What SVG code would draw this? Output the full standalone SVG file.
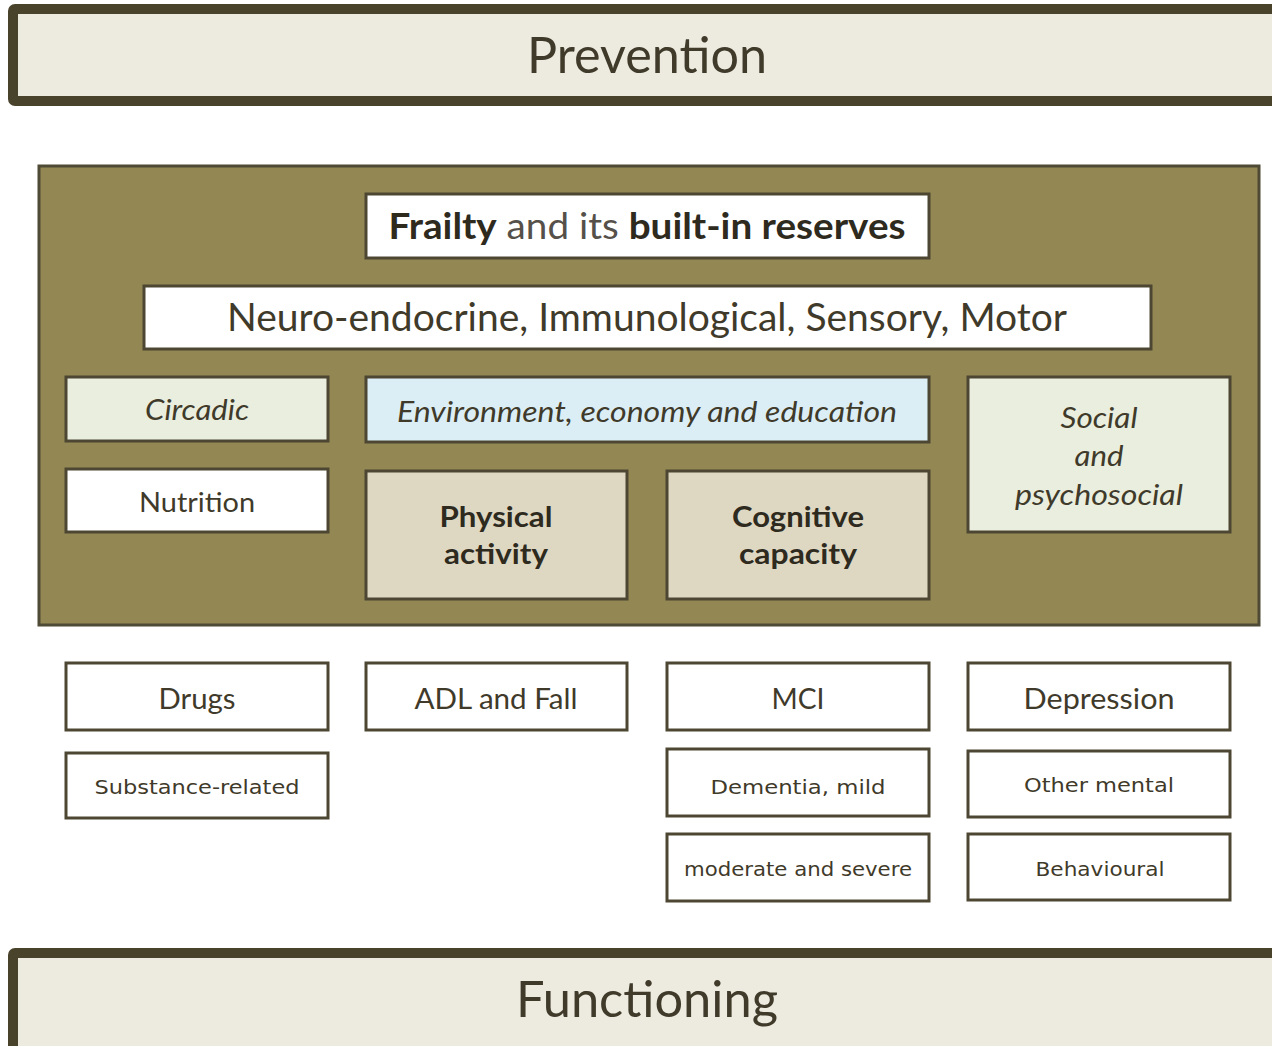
<svg xmlns="http://www.w3.org/2000/svg" width="1272" height="1046" viewBox="0 0 1272 1046">
<style>
.bar{fill:#EDEADF;stroke:#4A432B;stroke-width:10}
.box{stroke:#4D4632;stroke-width:3}
.w{fill:#FFFFFF}
.g{fill:#EAEEDF}
.b{fill:#DCEEF5}
.t{fill:#DED8C3}
.f{font-family:Lato,"Open Sans","Liberation Sans",sans-serif;fill:#3F3A2A;text-anchor:middle}
.s{font-family:"DejaVu Sans","Liberation Sans",sans-serif;fill:#3F3A2A;text-anchor:middle;font-size:20px}
.i{font-style:italic}
.bd{font-weight:bold;fill:#2E2A1E}
</style>
<g id="prevention">
<rect class="bar" x="13" y="9" width="1290" height="92" rx="2"/>
<text class="f" x="647" y="73" font-size="50" textLength="240" lengthAdjust="spacingAndGlyphs">Prevention</text>
</g>
<g id="main">
<rect x="39" y="166" width="1220" height="459" fill="#938853" stroke="#4F4A35" stroke-width="3"/>
</g>
<g id="frailty">
<rect class="box w" x="366" y="194" width="563" height="64"/>
<text class="f" x="647" y="239" font-size="36" textLength="517" lengthAdjust="spacingAndGlyphs"><tspan class="bd">Frailty</tspan><tspan fill="#555049"> and its </tspan><tspan class="bd">built-in reserves</tspan></text>
</g>
<g id="neuro">
<rect class="box w" x="144" y="286" width="1007" height="63"/>
<text class="f" x="647" y="331" font-size="38" textLength="840" lengthAdjust="spacingAndGlyphs">Neuro-endocrine, Immunological, Sensory, Motor</text>
</g>
<g id="circadic">
<rect class="box g" x="66" y="377" width="262" height="64"/>
<text class="f i" x="197" y="420" font-size="29" textLength="104" lengthAdjust="spacingAndGlyphs">Circadic</text>
</g>
<g id="environment">
<rect class="box b" x="366" y="377" width="563" height="65"/>
<text class="f i" x="647" y="422" font-size="28" textLength="500" lengthAdjust="spacingAndGlyphs">Environment, economy and education</text>
</g>
<g id="social">
<rect class="box g" x="968" y="377" width="262" height="155"/>
<text class="f i" x="1099" y="428" font-size="28" textLength="77" lengthAdjust="spacingAndGlyphs">Social</text>
<text class="f i" x="1099" y="466" font-size="28" textLength="49" lengthAdjust="spacingAndGlyphs">and</text>
<text class="f i" x="1099" y="505" font-size="28" textLength="168" lengthAdjust="spacingAndGlyphs">psychosocial</text>
</g>
<g id="nutrition">
<rect class="box w" x="66" y="469" width="262" height="63"/>
<text class="f" x="197" y="512" font-size="27" textLength="116" lengthAdjust="spacingAndGlyphs">Nutrition</text>
</g>
<g id="physical">
<rect class="box t" x="366" y="471" width="261" height="128"/>
<text class="f bd" x="496" y="527" font-size="28" textLength="113" lengthAdjust="spacingAndGlyphs">Physical</text>
<text class="f bd" x="496" y="564" font-size="28" textLength="104" lengthAdjust="spacingAndGlyphs">activity</text>
</g>
<g id="cognitive">
<rect class="box t" x="667" y="471" width="262" height="128"/>
<text class="f bd" x="798" y="527" font-size="28" textLength="132" lengthAdjust="spacingAndGlyphs">Cognitive</text>
<text class="f bd" x="798" y="564" font-size="28" textLength="118" lengthAdjust="spacingAndGlyphs">capacity</text>
</g>
<g id="drugs">
<rect class="box w" x="66" y="663" width="262" height="67"/>
<text class="f" x="197" y="709" font-size="28" textLength="77" lengthAdjust="spacingAndGlyphs">Drugs</text>
</g>
<g id="adl">
<rect class="box w" x="366" y="663" width="261" height="67"/>
<text class="f" x="496" y="709" font-size="28" textLength="163" lengthAdjust="spacingAndGlyphs">ADL and Fall</text>
</g>
<g id="mci">
<rect class="box w" x="667" y="663" width="262" height="67"/>
<text class="f" x="798" y="709" font-size="28" textLength="53" lengthAdjust="spacingAndGlyphs">MCI</text>
</g>
<g id="depression">
<rect class="box w" x="968" y="663" width="262" height="67"/>
<text class="f" x="1099" y="709" font-size="28" textLength="151" lengthAdjust="spacingAndGlyphs">Depression</text>
</g>
<g id="substance">
<rect class="box w" x="66" y="753" width="262" height="65"/>
<text class="s" x="197" y="794" textLength="205" lengthAdjust="spacingAndGlyphs">Substance-related</text>
</g>
<g id="dementia">
<rect class="box w" x="667" y="749" width="262" height="67"/>
<text class="s" x="798" y="794" textLength="175" lengthAdjust="spacingAndGlyphs">Dementia, mild</text>
</g>
<g id="othermental">
<rect class="box w" x="968" y="751" width="262" height="66"/>
<text class="s" x="1099" y="792" textLength="150" lengthAdjust="spacingAndGlyphs">Other mental</text>
</g>
<g id="moderate">
<rect class="box w" x="667" y="834" width="262" height="67"/>
<text class="s" x="798" y="876" textLength="228" lengthAdjust="spacingAndGlyphs">moderate and severe</text>
</g>
<g id="behavioural">
<rect class="box w" x="968" y="834" width="262" height="66"/>
<text class="s" x="1100" y="876" textLength="129" lengthAdjust="spacingAndGlyphs">Behavioural</text>
</g>
<g id="functioning">
<rect class="bar" x="13" y="953" width="1290" height="100" rx="2"/>
<text class="f" x="647" y="1017" font-size="50" textLength="262" lengthAdjust="spacingAndGlyphs">Functioning</text>
</g>
<g id="connectors"></g>
</svg>
